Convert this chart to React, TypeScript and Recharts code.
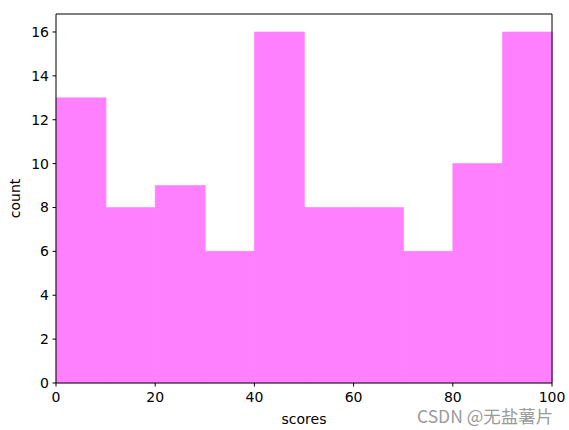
import { Bar, BarChart, ReferenceLine, XAxis, YAxis } from "recharts";

const binStarts = [0, 10, 20, 30, 40, 50, 60, 70, 80, 90];
const counts = [13, 8, 9, 6, 16, 8, 8, 6, 10, 16];
const xTicks = [0, 20, 40, 60, 80, 100];
const yTicks = [0, 2, 4, 6, 8, 10, 12, 14, 16];

const data = binStarts.map((start, i) => ({ mid: start + 5, count: counts[i] }));

const font = "DejaVu Sans, sans-serif";
const tickStyle = { fontSize: 14, fill: "#000", fontFamily: font };

export default function App() {
  return (
    <div style={{ position: "absolute", left: 0, top: 0, width: 569, height: 430, background: "#fff" }}>
      <BarChart
        width={569}
        height={430}
        data={data}
        margin={{ top: 14, right: 17, left: 0, bottom: 0 }}
        barCategoryGap={0}
        barGap={0}
      >
        <XAxis
          dataKey="mid"
          type="number"
          domain={[0, 100]}
          ticks={xTicks}
          height={47}
          tickSize={3.5}
          tickMargin={6}
          stroke="#000"
          tick={tickStyle}
          tickLine={{ stroke: "#000" }}
          axisLine={{ stroke: "#000" }}
          label={{ value: "scores", position: "insideBottom", offset: 6, style: { ...tickStyle, textAnchor: "middle" } }}
        />
        <YAxis
          type="number"
          domain={[0, 16.82]}
          ticks={yTicks}
          width={56}
          tickSize={3.5}
          tickMargin={3.5}
          stroke="#000"
          tick={tickStyle}
          tickLine={{ stroke: "#000" }}
          axisLine={{ stroke: "#000" }}
          label={{ value: "count", angle: -90, position: "insideLeft", offset: 15, style: { ...tickStyle, textAnchor: "middle" } }}
        />
        <Bar dataKey="count" fill="#ff80ff" stroke="#ff80ff" strokeWidth={0.6} isAnimationActive={false} />
        <ReferenceLine y={16.82} stroke="#000" />
        <ReferenceLine x={100} stroke="#000" />
      </BarChart>
      <div
        style={{
          position: "absolute",
          left: 417,
          top: 407,
          fontFamily: "Noto Sans CJK SC, sans-serif",
          fontSize: 17.5,
          lineHeight: "17px",
          color: "#9a9a9a",
          whiteSpace: "nowrap",
        }}
      >
        CSDN @无盐薯片
      </div>
    </div>
  );
}
